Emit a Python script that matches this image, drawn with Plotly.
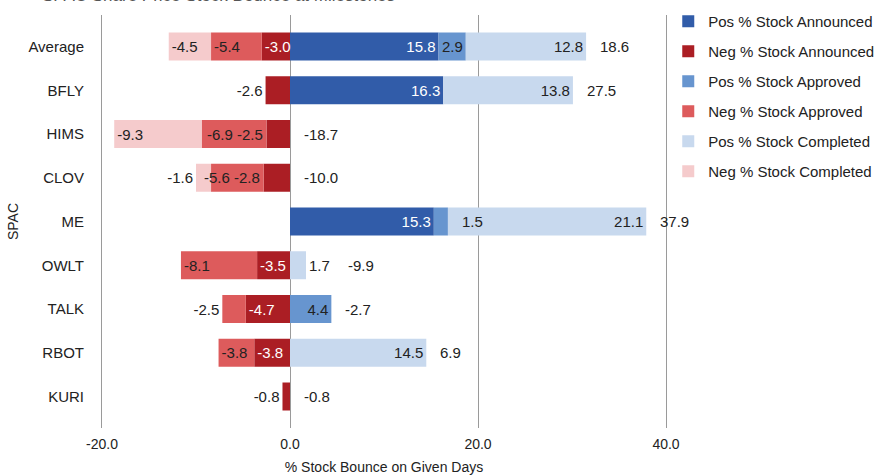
import plotly.graph_objects as go

categories = ["Average", "BFLY", "HIMS", "CLOV", "ME", "OWLT", "TALK", "RBOT", "KURI"]

pos_announced = [15.8, 16.3, None, None, 15.3, None, None, None, None]
neg_announced = [-3.0, -2.6, -2.5, -2.8, None, -3.5, -4.7, -3.8, -0.8]
pos_approved = [2.9, None, None, None, 1.5, None, 4.4, None, None]
neg_approved = [-5.4, None, -6.9, -5.6, None, -8.1, -2.5, -3.8, None]
pos_completed = [12.8, 13.8, None, None, 21.1, 1.7, None, 14.5, None]
neg_completed = [-4.5, None, -9.3, -1.6, None, None, None, None, None]
totals = [18.6, 27.5, -18.7, -10.0, 37.9, -9.9, -2.7, 6.9, -0.8]

tick_vals = [-20, 0, 20, 40]
tick_text = [f"{v:.1f}" for v in tick_vals]

FONT = "Liberation Sans, Arial, Helvetica, sans-serif"
TXT = "#222222"
GRID = "#9a9a9a"
FIT_MIN = 2.9  # segments narrower than this cannot hold their label

series = [
    ("Pos % Stock Announced", pos_announced, "#315ca9", "white"),
    ("Neg % Stock Announced", neg_announced, "#ab1e24", "white"),
    ("Pos % Stock Approved", pos_approved, "#6795cf", TXT),
    ("Neg % Stock Approved", neg_approved, "#dd5b5c", TXT),
    ("Pos % Stock Completed", pos_completed, "#c8d9ee", TXT),
    ("Neg % Stock Completed", neg_completed, "#f5cbcc", TXT),
]

fig = go.Figure()
n = len(categories)
cum_pos = [0.0] * n
cum_neg = [0.0] * n
pushed_neg = [None] * n  # inner end of a negative label pushed outward
for i, (name, vals, color, tcol) in enumerate(series):
    texts = []
    for r, v in enumerate(vals):
        if v is None:
            texts.append(None)
            continue
        sign_pos = v >= 0
        later = [s[1][r] for s in series[i + 1:] if s[1][r] is not None and ((s[1][r] >= 0) == sign_pos)]
        if sign_pos:
            cum_pos[r] += v
            end = cum_pos[r]
        else:
            prev_end = cum_neg[r]
            cum_neg[r] += v
            end = cum_neg[r]
        if later and abs(v) < FIT_MIN:
            # inner segment too thin: put its label just beyond its outer end
            texts.append(None)
            fig.add_annotation(x=end, y=categories[r], text=f"{v:.1f}", showarrow=False,
                               xanchor="left" if sign_pos else "right",
                               xshift=12 if sign_pos else -2,
                               font=dict(size=15, color=TXT, family=FONT))
            if not sign_pos:
                pushed_neg[r] = end
        elif not sign_pos and pushed_neg[r] is not None and pushed_neg[r] == prev_end:
            # make room for the pushed label of the inner segment
            texts.append(None)
            fig.add_annotation(x=prev_end, y=categories[r], text=f"{v:.1f}", showarrow=False,
                               xanchor="right", xshift=-32,
                               font=dict(size=15, color=TXT, family=FONT))
            pushed_neg[r] = None
        else:
            texts.append(f"{v:.1f}")
    fig.add_trace(go.Bar(
        name=name, y=categories, x=vals, orientation="h",
        marker=dict(color=color, line=dict(width=0)),
        text=texts,
        textposition="auto", constraintext="none", textangle=0,
        insidetextfont=dict(color=tcol, size=15, family=FONT),
        outsidetextfont=dict(color=TXT, size=15, family=FONT),
        legendgroup=f"g{i}",
        hoverinfo="skip",
    ))

# total labels placed right of the positive stack
pos_series = [pos_announced, pos_approved, pos_completed]
for i, cat in enumerate(categories):
    segs = [s[i] for s in pos_series if s[i] is not None]
    pos_sum = sum(segs)
    shift = 12
    if segs and segs[-1] < FIT_MIN:
        shift += 28
    fig.add_annotation(x=pos_sum, y=cat, text=f"{totals[i]:.1f}", showarrow=False,
                       xanchor="left", xshift=shift,
                       font=dict(size=15, color=TXT, family=FONT))

# chart title, mostly above the visible page as in the reference
fig.add_annotation(x=-0.11, xref="paper", y=1.0, yref="paper", xanchor="left", yanchor="bottom",
                   yshift=7.5, showarrow=False,
                   text="SPAC Share Price Stock Bounce at Milestones",
                   font=dict(size=17, color="#555555", family=FONT))

fig.update_layout(
    width=886, height=475,
    barmode="relative", bargap=0.36,
    plot_bgcolor="white", paper_bgcolor="white",
    font=dict(family=FONT, size=15, color=TXT),
    margin=dict(l=102, r=220, t=15, b=47, autoexpand=False),
    legend=dict(x=1.004, xanchor="left", y=1.024, yanchor="top",
                font=dict(size=15, color=TXT, family=FONT),
                tracegroupgap=7.5, traceorder="grouped", bgcolor="rgba(0,0,0,0)"),
    showlegend=True,
)
fig.update_xaxes(
    range=[-20, 40], tickvals=tick_vals, ticktext=tick_text,
    showgrid=True, gridcolor=GRID, gridwidth=1,
    zeroline=True, zerolinecolor=GRID, zerolinewidth=1,
    showline=False, ticks="", tickfont=dict(size=14, color=TXT),
    ticklabelstandoff=6,
    title=dict(text="% Stock Bounce on Given Days", font=dict(size=14, color=TXT), standoff=12),
)
fig.update_yaxes(
    categoryorder="array", categoryarray=categories, autorange=False,
    range=[n - 1 + 0.72, -0.72],
    showgrid=False, zeroline=False, showline=True, mirror=True,
    linecolor=GRID, linewidth=1, ticks="",
    ticklabelstandoff=14, tickfont=dict(size=15, color=TXT),
    title=dict(text="SPAC", font=dict(size=14, color=TXT), standoff=6),
)

fig.write_html("out.html")
